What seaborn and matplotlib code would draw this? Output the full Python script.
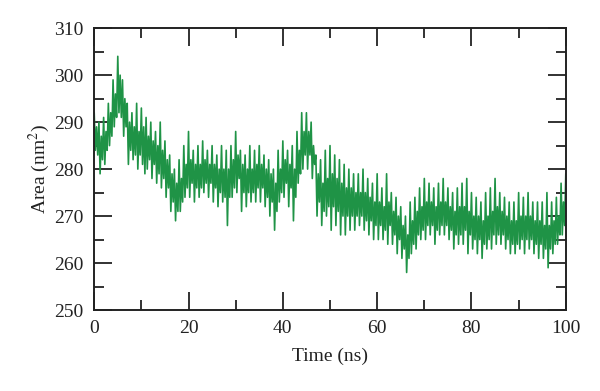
import numpy as np
import pandas as pd
import seaborn as sns
from matplotlib import pyplot as plt
from matplotlib.ticker import MultipleLocator

# time in ns, 0.25 ns steps
time_ns = np.arange(0, 100.25, 0.25)

# area values (nm^2), one row per 5 ns
area = [
    292, 284, 289, 283,  290, 279, 287, 282,  291, 281, 288, 284,  294, 285, 292, 287,  299, 289, 296, 291,
    304, 292, 300, 291,  299, 287, 295, 289,  294, 281, 290, 284,  292, 282, 289, 283,  294, 280, 288, 283,
    293, 281, 289, 279,  291, 280, 287, 282,  290, 278, 286, 281,  288, 277, 285, 279,  290, 276, 284, 278,
    286, 274, 282, 276,  283, 271, 279, 273,  280, 269, 277, 271,  282, 271, 278, 273,  285, 274, 281, 276,
    288, 274, 282, 277,  284, 273, 281, 276,  285, 274, 281, 276,  286, 275, 282, 277,  284, 274, 281, 277,
    285, 273, 281, 276,  283, 272, 280, 275,  285, 273, 280, 274,  284, 268, 280, 274,  285, 274, 282, 276,
    288, 275, 283, 278,  284, 271, 281, 275,  283, 272, 280, 275,  285, 273, 280, 275,  284, 273, 281, 276,
    285, 273, 281, 276,  283, 272, 280, 274,  282, 270, 279, 273,  280, 267, 277, 271,  284, 273, 280, 275,
    286, 274, 282, 277,  284, 272, 281, 276,  285, 269, 280, 274,  288, 277, 284, 279,  292, 280, 288, 283,
    292, 280, 288, 283,  290, 278, 285, 281,  283, 270, 279, 273,  282, 268, 277, 271,  284, 270, 278, 272,
    285, 267, 279, 272,  283, 268, 278, 271,  282, 266, 277, 270,  281, 266, 276, 270,  280, 267, 276, 270,
    279, 267, 275, 270,  279, 268, 275, 270,  280, 267, 275, 269,  278, 266, 274, 269,  277, 265, 273, 268,
    279, 265, 273, 268,  276, 265, 272, 267,  279, 264, 273, 268,  275, 264, 271, 266,  274, 262, 270, 265,
    272, 261, 268, 263,  270, 258, 266, 261,  273, 262, 269, 264,  274, 263, 271, 266,  276, 265, 272, 267,
    278, 265, 273, 268,  277, 266, 273, 268,  276, 264, 272, 267,  277, 266, 273, 268,  278, 266, 273, 268,
    276, 265, 272, 267,  275, 263, 271, 266,  276, 264, 272, 266,  277, 264, 272, 267,  278, 262, 271, 266,
    275, 263, 270, 265,  274, 262, 270, 265,  273, 261, 269, 264,  275, 263, 270, 265,  276, 263, 271, 266,
    278, 264, 272, 266,  275, 264, 271, 266,  274, 263, 270, 265,  273, 262, 269, 264,  273, 262, 269, 264,
    275, 263, 270, 265,  274, 262, 270, 265,  275, 263, 270, 265,  273, 262, 269, 264,  273, 261, 269, 264,
    273, 261, 268, 263,  275, 259, 268, 263,  273, 262, 269, 264,  274, 264, 270, 266,  277, 266, 273, 268,
    279,
]

df = pd.DataFrame({"time": time_ns, "area": area})

sns.set_style("ticks")
plt.rcParams['font.family'] = ['Liberation Serif', 'DejaVu Serif']
plt.rcParams['mathtext.fontset'] = 'stix'

fig = plt.figure(figsize=(6, 3.91), dpi=100)
ax = fig.add_axes([0.157, 0.207, 0.786, 0.721])

sns.lineplot(data=df, x="time", y="area", color="#1f9346", linewidth=1.2, ax=ax)

ax.set_xlim(0, 100)
ax.set_ylim(250, 310)
ax.xaxis.set_major_locator(MultipleLocator(20))
ax.xaxis.set_minor_locator(MultipleLocator(10))
ax.yaxis.set_major_locator(MultipleLocator(10))
ax.yaxis.set_minor_locator(MultipleLocator(5))
ax.tick_params(which='both', direction='in', top=True, right=True,
               width=1.3, labelsize=14, colors='#222222')
ax.tick_params(which='major', length=13)
ax.tick_params(which='minor', length=7)
ax.tick_params(axis='x', which='major', pad=7)
ax.tick_params(axis='y', which='major', pad=8)
for s in ax.spines.values():
    s.set_linewidth(1.4)
    s.set_color('#222222')

ax.set_xlabel("Time (ns)", fontsize=14, color='#222222', labelpad=8)
ax.set_ylabel("Area (nm$^2$)", fontsize=14, color='#222222', labelpad=1)

plt.savefig("out.png", dpi=100)
